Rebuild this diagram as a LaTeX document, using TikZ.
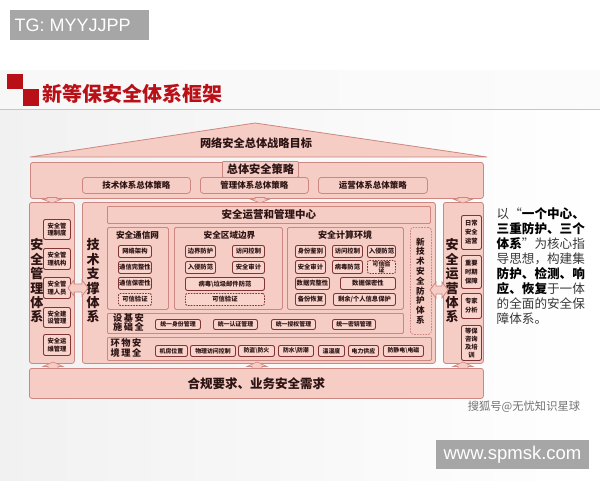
\documentclass[tikz,border=0pt]{standalone}
\usepackage{fontspec}
\setmainfont{Noto Sans CJK SC}
\newfontfamily\lat{Liberation Sans}
\definecolor{pk}{RGB}{246,205,197}
\definecolor{pkd}{RGB}{205,135,128}
\definecolor{itb}{RGB}{128,52,52}
\definecolor{itf}{RGB}{249,212,204}
\definecolor{txt}{RGB}{45,20,20}
\definecolor{ttl}{RGB}{185,16,24}
\definecolor{wmk}{RGB}{166,166,166}
\tikzset{
 panel/.style={draw=pkd,fill=pk,rounded corners=2.5pt,line width=0.8pt},
 itembox/.style={draw=itb,fill=itf,rounded corners=2pt,line width=0.9pt,font=\fontsize{6.3}{7.6}\selectfont\bfseries,text=txt,align=center},
 itemdash/.style={itembox,dash pattern=on 1.6pt off 1.2pt},
 sitem/.style={itembox,font=\fontsize{5.9}{7}\selectfont\bfseries},
 ptitle/.style={font=\fontsize{8.6}{9}\selectfont\bfseries,text=txt},
 vtext/.style={font=\fontsize{13}{14.4}\selectfont\bfseries,text=txt,align=center,inner sep=0pt},
 blockarr/.style={fill=pk,draw=pkd,line width=0.6pt},
}
\newcommand\bx[7]{\node[#6,anchor=north west,minimum width={(#4-#2)*1pt},minimum height={(#5-#3)*1pt},inner sep=0pt] (#1) at (#2,#3) {#7};}
\begin{document}
\begin{tikzpicture}[x=1pt,y=-1pt]
\useasboundingbox (0,0) rectangle (600,480);
\fill[white] (0,0) rectangle (600,480);
\shade[left color=gray!11, right color=white] (0,70) rectangle (600,480);
\shade[left color=gray!6, right color=gray!3] (0,70) rectangle (600,109);
\draw[gray!45, line width=1pt] (0,109.5) -- (600,109.5);
% watermark top
\fill[wmk] (10,10) rectangle (149,40);
\node[anchor=west,text=white,font=\lat\fontsize{18}{18}\selectfont,inner sep=0pt] (tg) at (14.5,25.5) {TG: MYYJJPP};
% title
\fill[ttl] (7,74) rectangle (23,89);
\fill[ttl] (23,89) rectangle (39,106);
\node[anchor=west,text=ttl,font=\fontsize{20}{20}\selectfont\bfseries,inner sep=0pt] (title) at (42,94) {新等保安全体系框架};
% roof
\path[panel,rounded corners=0pt] (30,157) -- (255,123) -- (487,157) -- cycle;
\node[font=\fontsize{11.2}{12}\selectfont\bfseries,text=txt] (roof) at (256,143) {网络安全总体战略目标};
% strategy
\bx{strat}{30}{162}{483}{198}{panel}{}
\bx{tab}{222}{161}{298}{177}{panel,rounded corners=1pt,font=\fontsize{11.2}{12}\selectfont\bfseries,text=txt}{总体安全策略}
\bx{s1}{82}{177}{190}{193}{panel,rounded corners=3pt,font=\fontsize{8.5}{9}\selectfont\bfseries,text=txt}{技术体系总体策略}
\bx{s2}{200}{177}{308}{193}{panel,rounded corners=3pt,font=\fontsize{8.5}{9}\selectfont\bfseries,text=txt}{管理体系总体策略}
\bx{s3}{318}{177}{427}{193}{panel,rounded corners=3pt,font=\fontsize{8.5}{9}\selectfont\bfseries,text=txt}{运营体系总体策略}
% columns
\bx{lcol}{29}{202}{74}{363}{panel}{}
\bx{ctr}{82}{202}{435}{363}{panel}{}
\bx{rcol}{443}{202}{483}{363}{panel}{}
\bx{base}{29}{368}{483}{398}{panel,font=\fontsize{12.5}{13}\selectfont\bfseries,text=txt}{合规要求、业务安全需求}
% left column
\node[vtext] (lv) at (37,281) {安\\全\\管\\理\\体\\系};
\bx{l1}{43}{219}{70}{239}{itembox}{安全管\\理制度}
\bx{l2}{43}{248}{70}{269}{itembox}{安全管\\理机构}
\bx{l3}{43}{277}{70}{298}{itembox}{安全管\\理人员}
\bx{l4}{43}{307}{70}{327}{itembox}{安全建\\设管理}
\bx{l5}{43}{334}{70}{355}{itembox}{安全运\\维管理}
% right column
\node[vtext] (rv) at (452,281) {安\\全\\运\\营\\体\\系};
\bx{r1}{461}{215}{481}{249}{itembox,font=\fontsize{6.3}{9}\selectfont\bfseries}{日常\\安全\\运营}
\bx{r2}{461}{255}{481}{288}{itembox,font=\fontsize{6.3}{9}\selectfont\bfseries}{重要\\时期\\保障}
\bx{r3}{461}{293}{481}{318}{itembox,font=\fontsize{6.3}{9}\selectfont\bfseries}{专家\\分析}
\bx{r4}{461}{325}{481}{360}{itembox,font=\fontsize{6.3}{8}\selectfont\bfseries}{等保\\咨询\\及培\\训}
% center
\node[vtext] (cv) at (93,281) {技\\术\\支\\撑\\体\\系};
\bx{soc}{107}{206}{430}{223}{panel,rounded corners=1pt,font=\fontsize{10.5}{11}\selectfont\bfseries,text=txt}{安全运营和管理中心}
\bx{p1}{107}{227}{168}{309}{panel,rounded corners=1.5pt}{}
\bx{p2}{174}{227}{282}{309}{panel,rounded corners=1.5pt}{}
\bx{p3}{287}{227}{403}{309}{panel,rounded corners=1.5pt}{}
\node[ptitle] (p1t) at (137.5,235.5) {安全通信网};
\node[ptitle] (p2t) at (229.5,235.5) {安全区域边界};
\node[ptitle,font=\fontsize{9}{9}\selectfont\bfseries] (p3t) at (345,235.5) {安全计算环境};
\bx{a1}{118}{245}{151}{257}{itembox}{网络架构}
\bx{a2}{118}{261}{151}{273}{itembox}{通信完整性}
\bx{a3}{118}{277}{151}{289}{itembox}{通信保密性}
\bx{a4}{118}{293}{151}{305}{itemdash}{可信验证}
\bx{b1}{185}{245}{215}{257}{itembox}{边界防护}
\bx{b2}{232}{245}{264}{257}{itembox}{访问控制}
\bx{b3}{185}{261}{215}{273}{itembox}{入侵防范}
\bx{b4}{232}{261}{264}{273}{itembox}{安全审计}
\bx{b5}{185}{277}{264}{290}{itembox}{病毒\textbackslash 垃圾邮件防范}
\bx{b6}{185}{293}{264}{305}{itemdash}{可信验证}
\bx{c1}{295}{245}{325}{257}{itembox}{身份鉴别}
\bx{c2}{332}{245}{362}{257}{itembox}{访问控制}
\bx{c3}{367}{245}{395}{257}{itembox}{入侵防范}
\bx{c4}{295}{260}{325}{273}{itembox}{安全审计}
\bx{c5}{332}{260}{362}{273}{itembox}{病毒防范}
\bx{c6}{367}{260}{395}{273}{itemdash,font=\fontsize{5.9}{6.2}\selectfont\bfseries}{可信验\\证}
\bx{c7}{295}{277}{329}{289}{itembox}{数据完整性}
\bx{c8}{340}{277}{395}{289}{itembox}{数据保密性}
\bx{c9}{295}{293}{325}{305}{itembox}{备份恢复}
\bx{c10}{333}{293}{395}{305}{itembox}{剩余/个人信息保护}
\bx{nt}{410}{227}{431}{334}{panel,dash pattern=on 1.6pt off 1.2pt,rounded corners=3pt}{}
\node[font=\fontsize{8.6}{9.8}\selectfont\bfseries,text=txt,align=center,inner sep=0pt] (ntv) at (420.5,281) {新\\技\\术\\安\\全\\防\\护\\体\\系};
% infrastructure row
\bx{infra}{107}{313}{403}{333}{panel,rounded corners=1pt}{}
\node[font=\fontsize{9.2}{9.6}\selectfont\bfseries,text=txt,align=center,inner sep=0pt] (infl) at (128.5,322.5) {设\,基\,安\\施\,础\,全};
\bx{i1}{155}{319}{200}{329}{sitem}{统一身份管理}
\bx{i2}{213}{319}{257}{329}{sitem}{统一认证管理}
\bx{i3}{271}{319}{315}{329}{sitem}{统一授权管理}
\bx{i4}{332}{319}{375}{329}{sitem}{统一密钥管理}
% environment row
\bx{env}{107}{337}{431}{360}{panel,rounded corners=1pt}{}
\node[font=\fontsize{9.2}{9.6}\selectfont\bfseries,text=txt,align=center,inner sep=0pt] (envl) at (126,348) {环\,物\,安\\境\,理\,全};
\bx{e1}{155}{345}{187}{356}{sitem}{机房位置}
\bx{e2}{190}{345}{235}{356}{sitem}{物理访问控制}
\bx{e3}{238}{345}{274}{356}{sitem}{防盗\textbackslash 防火}
\bx{e4}{278}{345}{313}{356}{sitem}{防水\textbackslash 防潮}
\bx{e5}{318}{345}{344}{356}{sitem}{温湿度}
\bx{e6}{348}{345}{378}{356}{sitem}{电力供应}
\bx{e7}{383}{345}{423}{356}{sitem}{防静电\textbackslash 电磁}
% down arrows from strategy
\foreach \cx in {52,260,463}{
 \path[blockarr] (\cx-5,197.5) -- (\cx+5,197.5) -- (\cx+5,199) -- (\cx+10,199) -- (\cx,203) -- (\cx-10,199) -- (\cx-5,199) -- cycle;
}
% up arrows from base
\foreach \cx in {53,257,463}{
 \path[blockarr] (\cx-5,368.5) -- (\cx+5,368.5) -- (\cx+5,366.5) -- (\cx+10,366.5) -- (\cx,362) -- (\cx-10,366.5) -- (\cx-5,366.5) -- cycle;
}
% double arrows
\path[blockarr,line width=0.8pt] (68,288) -- (74,280) -- (74,284) -- (82,284) -- (82,280) -- (88,288) -- (82,296) -- (82,292) -- (74,292) -- (74,296) -- cycle;
\path[blockarr,line width=0.8pt] (430,290) -- (436,282) -- (436,286) -- (442,286) -- (442,282) -- (448,290) -- (442,298) -- (442,294) -- (436,294) -- (436,298) -- cycle;
% right text
\node[anchor=north west,align=left,inner sep=0pt,text=black!78,font=\fontsize{12.6}{15}\selectfont] (desc) at (496.5,207.5) {以“\textcolor{black}{\textbf{一个中心、}}\\
\textcolor{black}{\textbf{三重防护、三个}}\\
\textcolor{black}{\textbf{体系}}”为核心指\\
导思想，构建集\\
\textcolor{black}{\textbf{防护、检测、响}}\\
\textcolor{black}{\textbf{应、恢复}}于一体\\
的全面的安全保\\
障体系。};
% bottom watermarks
\node[text=black!55,font=\fontsize{11.3}{12}\selectfont,inner sep=0pt] (sohu) at (524,407) {搜狐号@无忧知识星球};
\fill[wmk] (436,440) rectangle (589,469);
\node[text=white,font=\lat\fontsize{18.5}{19}\selectfont,inner sep=0pt] (url) at (512.5,455) {www.spmsk.com};
\end{tikzpicture}
\end{document}
